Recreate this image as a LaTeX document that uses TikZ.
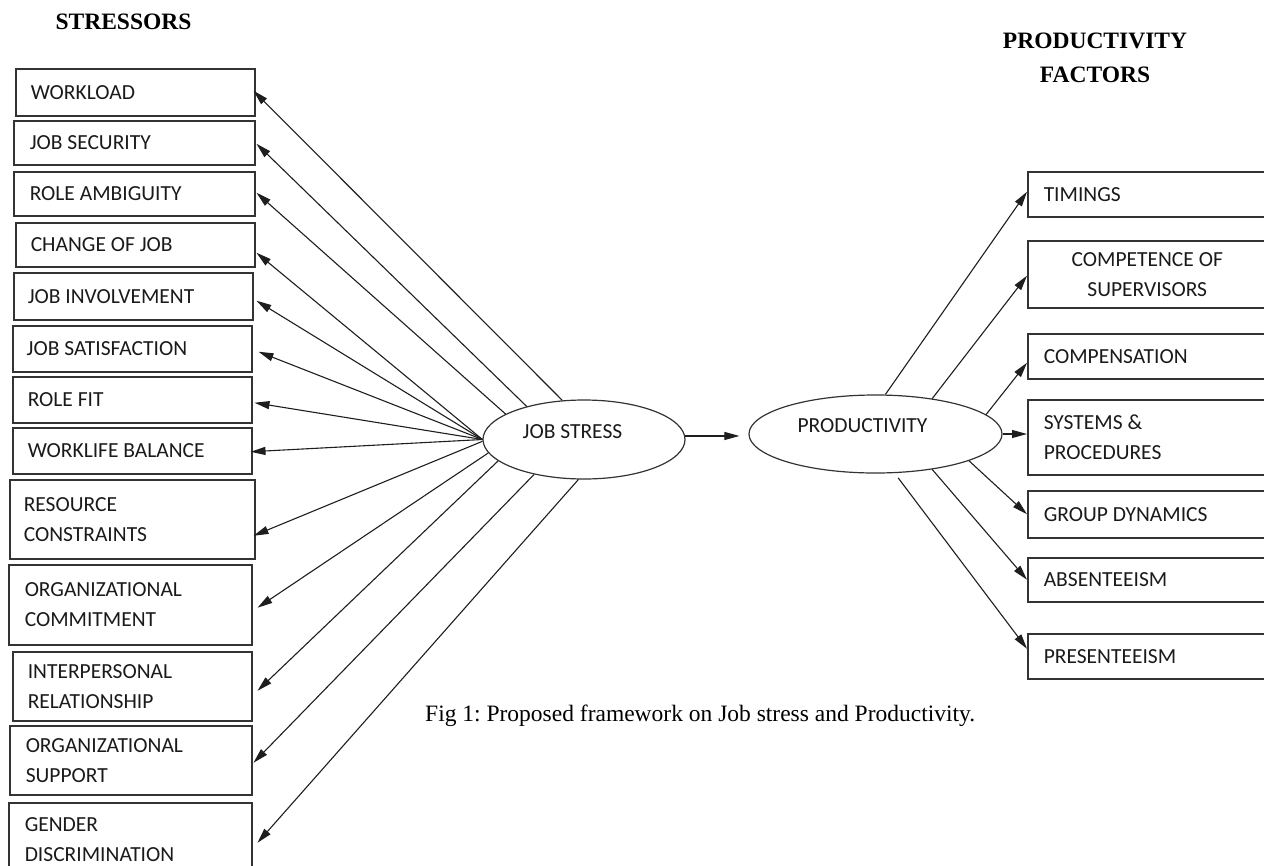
\documentclass[tikz,border=0pt]{standalone}
\usepackage{fontspec}
\setmainfont{Liberation Serif}
\newfontfamily\calfont{Carlito}
\usetikzlibrary{shapes.geometric,arrows.meta,calc}
\definecolor{boxc}{HTML}{333333}
\definecolor{linec}{HTML}{1E1E1E}
\definecolor{txtc}{HTML}{1A1A1A}
\newcommand{\boxfont}{\calfont\fontsize{21.5}{30}\selectfont}
\frenchspacing
\begin{document}
\begin{tikzpicture}[x=1pt,y=-1pt,
  fbox/.style={draw=boxc, line width=1.5pt, anchor=north west, inner ysep=0pt,
    align=flush left, font=\boxfont, text=txtc},
  ell/.style={ellipse, draw=boxc, line width=1.2pt, inner sep=0pt},
  lbl/.style={font=\boxfont, text=txtc, inner sep=0pt},
  ttl/.style={font=\bfseries\fontsize{23.5}{34}\selectfont, text=black, inner sep=0pt, align=center},
  arr/.style={draw=linec, line width=1.1pt, -{Triangle[length=15pt,width=8pt]}}]
\useasboundingbox (0,0) rectangle (1264,865);
\clip (0,0) rectangle (1264,865);

% titles
\node[ttl, anchor=base] (t1) at (123.5,29) {STRESSORS};
\node[ttl, anchor=north] (t2) at (1095,33) {PRODUCTIVITY\\FACTORS};

% stressor boxes
\node[fbox, inner xsep=15pt, text width=209pt, minimum height=47pt] (b1) at (15,68) {WORKLOAD};
\node[fbox, inner xsep=16pt, text width=209pt, minimum height=44pt] (b2) at (13,120) {JOB SECURITY};
\node[fbox, inner xsep=16pt, text width=209pt, minimum height=44pt] (b3) at (13,171) {ROLE AMBIGUITY};
\node[fbox, inner xsep=15pt, text width=209pt, minimum height=44pt] (b4) at (15,222) {CHANGE OF JOB};
\node[fbox, inner xsep=14pt, text width=211pt, minimum height=47pt] (b5) at (13,272) {JOB INVOLVEMENT};
\node[fbox, inner xsep=14pt, text width=211pt, minimum height=46pt] (b6) at (12,325) {JOB SATISFACTION};
\node[fbox, inner xsep=15pt, text width=209pt, minimum height=46pt] (b7) at (12,376) {ROLE FIT};
\node[fbox, inner xsep=15pt, text width=209pt, minimum height=46pt] (b8) at (12,427) {WORKLIFE BALANCE};
\node[fbox, inner xsep=14pt, text width=217pt, minimum height=79pt] (b9) at (9,479) {RESOURCE\\CONSTRAINTS};
\node[fbox, inner xsep=16pt, text width=211pt, minimum height=80pt] (b10) at (8,564) {ORGANIZATIONAL\\COMMITMENT};
\node[fbox, inner xsep=15pt, text width=209pt, minimum height=69pt] (b11) at (12,651) {INTERPERSONAL\\RELATIONSHIP};
\node[fbox, inner xsep=16pt, text width=210pt, minimum height=69pt] (b12) at (9,725) {ORGANIZATIONAL\\SUPPORT};
\node[fbox, inner xsep=16pt, text width=211pt, minimum height=74pt] (b13) at (8,802) {GENDER\\DISCRIMINATION};

% productivity factor boxes
\node[fbox, inner xsep=16pt, text width=207pt, minimum height=45pt] (r1) at (1027,171) {TIMINGS};
\node[fbox, inner xsep=16pt, text width=207pt, minimum height=67pt, align=flush center] (r2) at (1027,240) {COMPETENCE OF\\SUPERVISORS};
\node[fbox, inner xsep=16pt, text width=207pt, minimum height=45pt] (r3) at (1027,333) {COMPENSATION};
\node[fbox, inner xsep=16pt, text width=207pt, minimum height=75pt] (r4) at (1027,399) {SYSTEMS \&\\PROCEDURES};
\node[fbox, inner xsep=16pt, text width=207pt, minimum height=47pt] (r5) at (1027,490) {GROUP DYNAMICS};
\node[fbox, inner xsep=16pt, text width=207pt, minimum height=44pt] (r6) at (1027,557) {ABSENTEEISM};
\node[fbox, inner xsep=16pt, text width=207pt, minimum height=45pt] (r7) at (1027,633) {PRESENTEEISM};

% ellipses
\node[ell, minimum width=202pt, minimum height=79pt] (js) at (584,439.5) {};
\node[lbl] (jsl) at (572.5,432) {JOB STRESS};
\node[ell, minimum width=253pt, minimum height=78pt] (pr) at (875.5,434) {};
\node[lbl] (prl) at (862.5,425.5) {PRODUCTIVITY};

% caption
\node[anchor=base west, inner sep=0pt, font=\fontsize{23.5}{28}\selectfont, text=black] (cap) at (425,721)
  {Fig 1: Proposed framework on Job stress and Productivity.};

% stress -> stressors
\draw[arr] (js.119) -- ($(b1.east)+(-2,-1.5)$);
\draw[arr] (js.150) -- ($(b2.east)+(1,1)$);
\draw[arr] (js.162) -- ($(b3.east)+(1,-1)$);
\draw[arr] (js.west) -- ($(b4.east)+(1,8)$);
\draw[arr] (js.west) -- ($(b5.east)+(3,4.5)$);
\draw[arr] (js.west) -- ($(b6.east)+(6,3)$);
\draw[arr] (js.west) -- ($(b7.east)+(2,3)$);
\draw[arr] (js.west) -- ($(b8.east)+(-2,1)$);
\draw[arr] (js.181) -- ($(b9.east)+(-2,16.5)$);
\draw[arr] (js.188) -- ($(b10.east)+(5,3)$);
\draw[arr] (js.194) -- ($(b11.east)+(5,4.5)$);
\draw[arr] (js.215) -- ($(b12.east)+(1,2.5)$);
\draw[arr] (js.262) -- ($(b13.east)+(5,3)$);

% stress -> productivity
\draw[arr] (js.2) -- ($(js.2 -| pr.west)+(-9,0)$);

% productivity -> factors
\draw[arr] (pr.76) -- ($(r1.west)+(0,-2.5)$);
\draw[arr] (pr.32) -- ($(r2.west)+(0,1.5)$);
\draw[arr] (pr.10) -- ($(r3.west)+(0,6.5)$);
\draw[arr] (pr.east) -- (pr.east -| r4.west);
\draw[arr] (pr.-16) -- ($(r5.west)+(0,0)$);
\draw[arr] (pr.-32) -- ($(r6.west)+(0,0)$);
\draw[arr, shorten <=6pt] (pr.-64) -- ($(r7.west)+(0,-7.5)$);
\end{tikzpicture}
\end{document}
